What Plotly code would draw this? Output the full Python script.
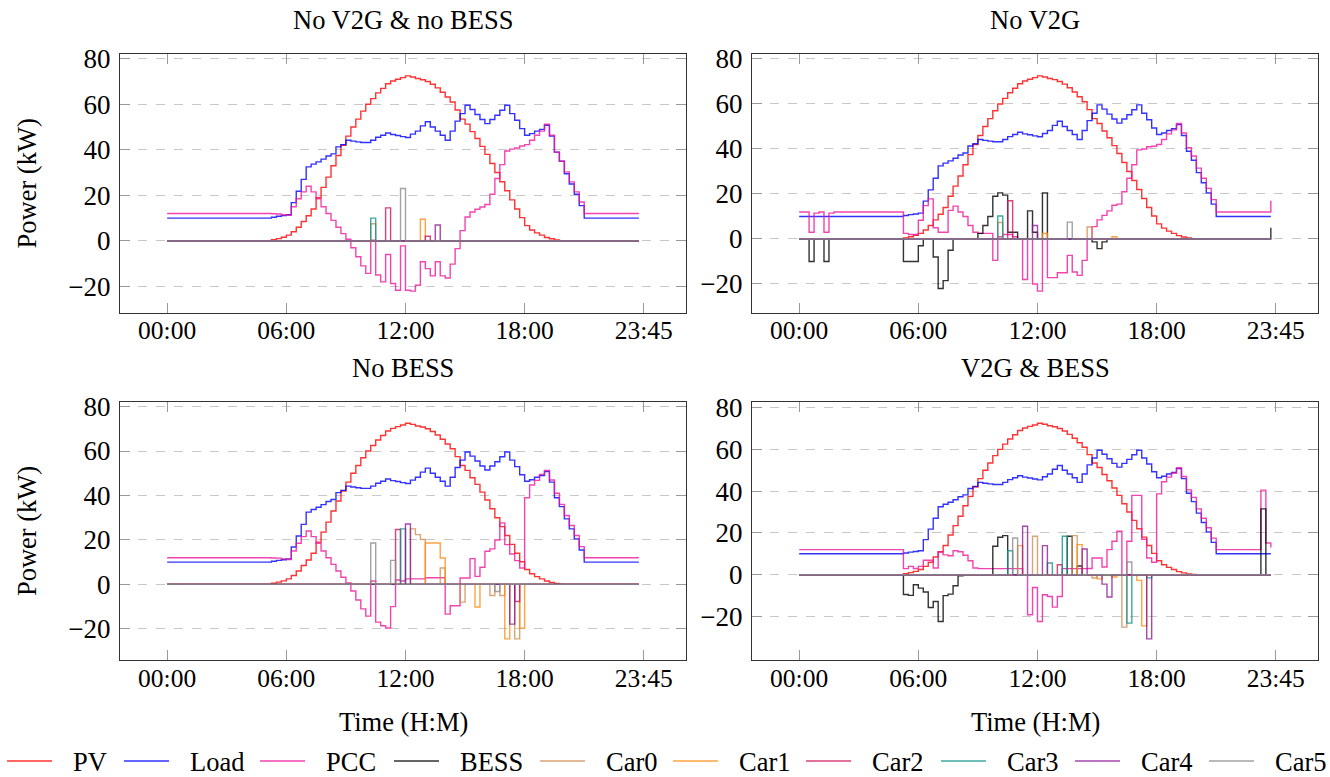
import plotly.graph_objects as go

N = 96
T = list(range(N))
XTICK_VALS = [0, 24, 48, 72, 96]
XTICK_TEXT = ["00:00", "06:00", "12:00", "18:00", "23:45"]
YTICK_VALS = [-20, 0, 20, 40, 60, 80]

PV = ([0]*21 +
      [0.5, 1.0, 1.6, 2.5, 4.0, 6.0, 8.5, 11, 14, 19, 23.5, 28, 33, 37.5, 42, 46, 50, 53.5, 57, 60,
       62.5, 65, 67, 69, 70.2, 71, 71.7, 72.5, 72, 71.3, 70.8, 70, 68.8, 67.2, 65.3, 63.2, 61, 57.5, 53.5, 51.3,
       48, 45, 41.5, 38, 34, 30, 26, 22, 18, 14, 10.2, 6.7, 4.8, 3.5, 2.5, 1.5, 0.9, 0.4, 0.1] +
      [0]*16)

LOAD = ([10]*21 +
        [10.4, 10.8, 11.1, 11.5, 16.8, 21.8, 27, 32.5, 33.7, 34.7, 35.9, 37.3, 38.2, 41.3, 42.3, 44.2, 43.8, 43.5, 43.2, 43.2,
         44.2, 45.5, 46.4, 47.4, 46.7, 46.3, 45.8, 45.4, 46.9, 48.2, 50.5, 52.3, 50, 48.2, 46.4, 44.2, 48.2, 52.6, 55.9, 59.6,
         57.7, 55.5, 53.3, 51.5, 53.3, 55.2, 57.4, 59.6, 55.9, 53, 49.3, 46.4, 47.1, 48.2, 49, 50.8, 46, 39, 35, 29.5,
         25, 20.5, 15.5] +
        [10]*12)

# ---- Scenario A: No V2G & no BESS
A_PCC = ([12]*21 +
         [11.9, 11.8, 11.5, 11.2, 15, 18.5, 21.5, 24, 21.5, 18.5, 15, 12, 9, 6, 3.2, 0.7, -3, -7, -11, -14.3] +
         [0.3, -15, -18, -6, -18.7, -21.7, -2.2, -21.7, -22.1, -19.5, -9.2, -12.2, -15.4, -9.2, -15.4, -16.3, -10.2, -3.4, 4.5, 10.5] +
         [12.7, 13.9, 14.9, 16, 20.5, 27.4, 33.5, 39.5, 40.3, 40.8, 41.7, 42.3, 44.2, 46.4, 48.2, 51.2, 46.4, 39, 35, 30.3,
          25.9, 21.5, 17.1] +
         [12]*12)
A_BESS = {}
A_CARS = [{41: 7.5}, {51: 9.5}, {44: 14.5, 52: 2}, {41: 10}, {54: 7}, {47: 23}]

# ---- Scenario B: No V2G
B_PCC = ([12, 12, 3, 11.5, 12, 3, 11.5] + [12]*14 +
         [2.5, 2, 2, 8.3, 14.8, 17.8, 5, 3, 3, 12.7, 14.6, 12, 10, 6, 3, 2.5, 2.5, 2.5, -9.5, 1] +
         [2, 2, 1, 0, -18, 0, -20, -23.2, 0, -17.2, -17.2, -15, -15, -7.3, -14.7, -16.2, -9.5, 0, 5.5, 8.5] +
         [10.5, 12.5, 15, 15.5, 21, 27, 33, 39.6, 40, 41, 41.2, 42, 44.2, 46.7, 48.5, 51.3, 47.1, 40.6, 36.9, 31.5,
          27, 22.5, 17.5] +
         [12]*11 + [17])
B_BESS = {2: -10, 5: -10, 21: -10, 22: -10, 23: -10, 24: -3, 27: -8, 28: -22, 29: -18.5, 30: -5,
          36: 2.5, 37: 6, 38: 10, 39: 19, 40: 20.5, 41: 19.5, 42: 3, 43: 3, 46: 12.5, 47: 3, 49: 20.5,
          59: -1.3, 60: -4.3, 61: -1.3, 95: 5}
B_CARS = [{40: 7.3, 58: 5.3}, {49: 2.4, 63: 1}, {42: 17}, {40: 10.2}, {47: 6}, {54: 7.5}]

# ---- Scenario C: No BESS
C_PCC = ([12]*21 +
         [11.9, 11.8, 11.5, 11.2, 15, 18.5, 21.5, 24, 21.5, 18.5, 15, 12, 9, 6, 3.2, 0.7, -3, -7, -11, -14.3] +
         [1.5, -17, -18.6, -19.6, -10, 2, 1.5, 2.5, 2.5, 2.5, 2.5, 3, 3, 3, 3, -13.4, -9.6, -9.6, 2.9, 2.9] +
         [11.6, 3.6, 7.7, 14.9, 16, 20, 27.7, 17.9, 13.7, 10.7, 7.4, 39, 44.7, 46.8, 49.5, 51.3, 47, 41, 36, 31,
          26.5, 22, 17] +
         [12]*12)
C_BESS = {}
C_CARS = [{49: 25, 50: 22.4, 51: 20.2, 55: 7.4, 59: -8, 65: -5, 67: -5, 70: -24.5},
          {52: 18.6, 53: 18.6, 54: 18.6, 55: 11.9, 62: -10.2, 68: -24.5, 71: -19.7},
          {46: 24.7, 70: -7.7},
          {47: 25},
          {48: 27.2, 69: -17.9},
          {41: 18.6, 45: 10.8, 66: -3.2}]

# ---- Scenario D: V2G & BESS
D_PCC = ([12]*21 +
         [2.9, 4, 3, 4, 6.9, 6.9, 3.2, 10.9, 9.5, 9.1, 11.5, 11, 9.3, 6.7, 3.2, 2.9, 2.9, 2.9, 2.9, 2.9] +
         [2.9, 2.9, 2.9, 2.9, 0, -19.2, -6.1, -22.4, -9.6, -10.4, -15.5, -10.4, 2.9, 2.9, 2.9, 2.9, 2.9, 3, 8, 8] +
         [3.7, 12, 16, 20.8, 0, 16, 38, 38, 17, 8, 6] +
         [38.7, 44.5, 46.7, 48.6, 51.2, 47, 40.6, 37, 31.5, 27, 22.5, 17.5] +
         [12]*9 + [40.5, 15.2, 13])
D_BESS = {21: -9.5, 22: -9.9, 23: -4.8, 24: -6.4, 25: -8.3, 26: -15.7, 27: -12.8, 28: -22.4, 29: -10,
          30: -9.3, 31: -5.3, 32: -0.5, 39: 13.6, 40: 17.9, 41: 18.7, 54: 18.4, 56: 4.2, 93: 31.5}
D_CARS = [{47: 18.4, 55: 18.7, 59: -1.6, 65: -25.1},
          {44: 13.9, 56: 14.4, 60: -2, 63: -1.1, 68: -2.7, 69: -24.5},
          {52: 4.8},
          {42: 11.5, 50: 5.6, 53: 18.4, 66: -23.2, 70: -1.5},
          {45: 23.2, 49: 13.9, 57: 12.3, 61: -4.5, 62: -10.7, 70: -30.7},
          {43: 17.6, 66: 6.1}]

TITLES = ["No V2G & no BESS", "No V2G", "No BESS", "V2G & BESS"]
SERIES_NAMES = ["PV", "Load", "PCC", "BESS", "Car0", "Car1", "Car2", "Car3", "Car4", "Car5"]
COLORS = ["#ff0000", "#0000ff", "#f0169b", "#000000", "#d08f52", "#ff8c14",
          "#d0145a", "#109488", "#901c98", "#8c8c8c"]


def dense(d):
    out = [0.0]*N
    for k, v in d.items():
        out[k] = v
    return out


SCEN = [(A_PCC, A_BESS, A_CARS), (B_PCC, B_BESS, B_CARS), (C_PCC, C_BESS, C_CARS), (D_PCC, D_BESS, D_CARS)]
for s in SCEN:
    assert len(s[0]) == N, len(s[0])
assert len(PV) == N and len(LOAD) == N

W, H = 1330, 777
BOX_X = [(120, 686), (752, 1318)]
BOX_Y = [(54.3, 312.7), (401.7, 660.4)]
FONT = "Liberation Serif, Times New Roman, serif"
FS = 26.5
OPAC = 0.8

fig = go.Figure()
layout = dict(width=W, height=H, margin=dict(l=0, r=0, t=0, b=0, autoexpand=False),
              paper_bgcolor="white", plot_bgcolor="white", showlegend=False,
              font=dict(family=FONT, size=FS, color="black"))
annotations = []
shapes = []

for k, (pcc, bess, cars) in enumerate(SCEN):
    row, col = divmod(k, 2)
    xa = "x" if k == 0 else f"x{k+1}"
    ya = "y" if k == 0 else f"y{k+1}"
    series = [PV, LOAD, pcc, dense(bess)] + [dense(c) for c in cars]
    for name, vals, colr in zip(SERIES_NAMES, series, COLORS):
        fig.add_trace(go.Scatter(x=T, y=vals, mode="lines", name=name,
                                 line=dict(color=colr, width=1.4, shape="hv"),
                                 opacity=OPAC, xaxis=xa, yaxis=ya,
                                 legendgroup=name, showlegend=False))
    allv = [v for s in series for v in s]
    mn, mx = min(allv), max(allv)
    pad = 0.1*(mx-mn)
    xpad = 0.1*(T[-1]-T[0])
    x0, x1 = BOX_X[col]
    y0, y1 = BOX_Y[row]
    axkey = "xaxis" if k == 0 else f"xaxis{k+1}"
    aykey = "yaxis" if k == 0 else f"yaxis{k+1}"
    layout[axkey] = dict(domain=[x0/W, x1/W], anchor=ya, range=[T[0]-xpad, T[-1]+xpad],
                         tickvals=XTICK_VALS, ticktext=XTICK_TEXT, ticks="inside", ticklen=10,
                         tickcolor="#999999", showline=True, linecolor="#333333", linewidth=1,
                         mirror="ticks", showgrid=False, zeroline=False, automargin=False,
                         tickfont=dict(family=FONT, size=25.5), ticklabelstandoff=-5)
    layout[aykey] = dict(domain=[1-y1/H, 1-y0/H], anchor=xa, range=[mn-pad, mx+pad],
                         tickvals=YTICK_VALS, ticks="inside", ticklen=10,
                         tickcolor="#999999", showline=True, linecolor="#333333", linewidth=1,
                         mirror="ticks", showgrid=True, gridcolor="#c8c8c8", griddash="dash",
                         gridwidth=1, zeroline=False, automargin=False,
                         tickfont=dict(family=FONT, size=27), ticklabelstandoff=3)
    cx = (x0+x1)/2
    annotations.append(dict(text=TITLES[k], x=cx/W, y=1-(y0-33.8)/H, xref="paper", yref="paper",
                            xanchor="center", yanchor="middle", showarrow=False,
                            font=dict(family=FONT, size=FS)))
    if col == 0:
        annotations.append(dict(text="Power (kW)", x=27/W, y=1-((y0+y1)/2)/H, xref="paper", yref="paper",
                                xanchor="center", yanchor="middle", showarrow=False, textangle=-90,
                                font=dict(family=FONT, size=FS)))
    if row == 1:
        annotations.append(dict(text="Time (H:M)", x=cx/W, y=1-721.7/H, xref="paper", yref="paper",
                                xanchor="center", yanchor="middle", showarrow=False,
                                font=dict(family=FONT, size=FS)))

# legend drawn as line samples + labels in one row under the plots
LEG_LINE_X = [7, 124, 260, 394, 540, 673, 806, 941, 1075, 1209]
LEG_LINE_LEN = 45
LEG_TEXT_GAP = 19
LEG_Y = 761
for name, colr, lx in zip(SERIES_NAMES, COLORS, LEG_LINE_X):
    shapes.append(dict(type="line", xref="paper", yref="paper",
                       x0=lx/W, x1=(lx+LEG_LINE_LEN)/W, y0=1-LEG_Y/H, y1=1-LEG_Y/H,
                       line=dict(color=colr, width=1.5), opacity=OPAC))
    annotations.append(dict(text=name, x=(lx+LEG_LINE_LEN+LEG_TEXT_GAP)/W, y=1-(LEG_Y+1)/H,
                            xref="paper", yref="paper", xanchor="left", yanchor="middle",
                            showarrow=False, font=dict(family=FONT, size=FS)))

layout["annotations"] = annotations
layout["shapes"] = shapes
fig.update_layout(**layout)
fig.write_html("out.html", config={"displayModeBar": False},
               post_script="document.body.style.margin='0';document.body.style.overflow='hidden';")
